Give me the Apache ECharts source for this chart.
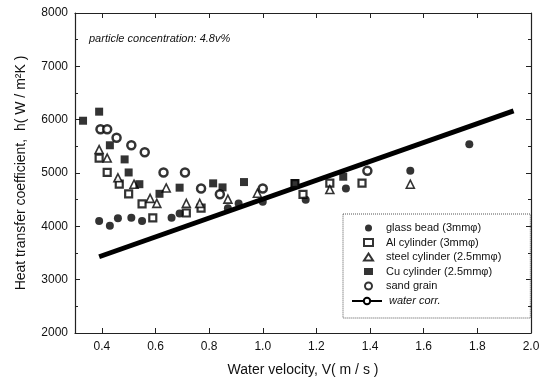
<!DOCTYPE html>
<html>
<head>
<meta charset="utf-8">
<script src="https://cdn.jsdelivr.net/npm/echarts@6/dist/echarts.min.js"></script>
<style>
html, body { margin: 0; padding: 0; background: #fff; }
#chart { width: 546px; height: 383px; }
</style>
</head>
<body>
<div id="chart"></div>
<script>
// tick labels
var xTicks = [0.4, 0.6, 0.8, 1.0, 1.2, 1.4, 1.6, 1.8, 2.0];
var yTicks = [2000, 3000, 4000, 5000, 6000, 7000, 8000];

// measured points [V, h]
var glassBead = [[0.39, 4100], [0.43, 4010], [0.46, 4150], [0.51, 4160], [0.55, 4100], [0.66, 4160],
    [0.69, 4240], [0.87, 4340], [0.91, 4430], [1.0, 4460], [1.16, 4500], [1.31, 4710], [1.55, 5040], [1.77, 5540]];
var alCylinder = [[0.39, 5280], [0.42, 5010], [0.465, 4790], [0.50, 4610], [0.55, 4420], [0.59, 4160],
    [0.715, 4250], [0.77, 4340], [1.12, 4800], [1.15, 4600], [1.25, 4810], [1.37, 4810]];
var steelCylinder = [[0.39, 5440], [0.42, 5280], [0.46, 4910], [0.52, 4790], [0.58, 4525], [0.605, 4430],
    [0.64, 4720], [0.715, 4430], [0.765, 4430], [0.87, 4510], [0.98, 4620], [1.25, 4690], [1.55, 4790]];
var cuCylinder = [[0.33, 5980], [0.39, 6150], [0.43, 5520], [0.485, 5255], [0.50, 5010], [0.54, 4790],
    [0.615, 4610], [0.69, 4725], [0.815, 4806], [0.85, 4730], [0.93, 4830], [1.12, 4810], [1.30, 4930]];
var sandGrain = [[0.395, 5820], [0.42, 5820], [0.455, 5660], [0.51, 5520], [0.56, 5390], [0.63, 5010],
    [0.71, 5010], [0.77, 4710], [0.84, 4600], [1.0, 4710], [1.39, 5040]];
var waterCorr = [[0.39, 3430], [1.935, 6165]];

var txt = '#111';
var font = 'Liberation Sans, Arial, sans-serif';

var myChart = echarts.init(document.getElementById('chart'));

function frameAxis(pos, extra) {
    var a = {
        type: 'value',
        position: pos,
        axisLine: { show: true, lineStyle: { color: '#222', width: 1.2 } },
        axisTick: { show: true, inside: true, length: 5, lineStyle: { color: '#222' } },
        axisLabel: { show: false },
        splitLine: { show: false }
    };
    return Object.assign(a, extra);
}

var option = {
    animation: false,
    backgroundColor: '#fff',
    textStyle: { fontFamily: font },
    title: {
        text: 'particle concentration: 4.8v%',
        left: 84, top: 28,
        textStyle: { fontSize: 11, fontStyle: 'italic', fontWeight: 'normal', color: txt, fontFamily: font }
    },
    grid: { left: 75, right: 15, top: 13, bottom: 50 },
    legend: [
        {
            // markers + dotted box (bottom padding leaves room for the line entry)
            orient: 'vertical',
            left: 343, top: 214,
            itemWidth: 9, itemHeight: 7, itemGap: 2.5,
            padding: [8, 29, 26, 20],
            borderColor: '#555', borderWidth: 1, borderType: 'dotted',
            textStyle: { fontSize: 11, lineHeight: 12, color: txt, fontFamily: font, padding: [0, 0, 0, 8] },
            data: ['glass bead (3mmφ)', 'Al cylinder (3mmφ)', 'steel cylinder (2.5mmφ)', 'Cu cylinder (2.5mmφ)', 'sand grain']
        },
        {
            orient: 'vertical',
            left: 351, top: 295,
            padding: 0,
            itemWidth: 30, itemHeight: 8,
            textStyle: { fontSize: 11, lineHeight: 12, color: txt, fontFamily: font, fontStyle: 'italic', padding: [0, 0, 0, 2] },
            data: ['water corr.']
        }
    ],
    xAxis: [
        frameAxis('bottom', {
            min: 0.3, max: 2.0,
            name: 'Water velocity, V( m / s )',
            nameLocation: 'middle', nameGap: 30,
            nameTextStyle: { fontSize: 14, color: txt, fontFamily: font },
            axisTick: { show: true, inside: true, length: 5, customValues: xTicks, lineStyle: { color: '#222' } },
            axisLabel: {
                show: true, customValues: xTicks, margin: 8,
                fontSize: 12, color: txt, fontFamily: font,
                formatter: function (v) { return v.toFixed(1); }
            }
        }),
        frameAxis('top', {
            min: 0.3, max: 2.0,
            axisTick: { show: true, inside: true, length: 5, customValues: xTicks, lineStyle: { color: '#222' } }
        })
    ],
    yAxis: [
        frameAxis('left', {
            min: 2000, max: 8000, interval: 1000,
            name: 'Heat transfer coefficient,  h( W / m²K )',
            nameLocation: 'middle', nameGap: 47,
            nameTextStyle: { fontSize: 14, color: txt, fontFamily: font },
            minorTick: { show: true, splitNumber: 2, length: 3, lineStyle: { color: '#222' } },
            axisLabel: { show: true, margin: 7, fontSize: 12, color: txt, fontFamily: font,
                formatter: function (v) { return yTicks.indexOf(v) >= 0 ? String(v) : ''; } }
        }),
        frameAxis('right', {
            min: 2000, max: 8000, interval: 1000,
            minorTick: { show: true, splitNumber: 2, length: 3, lineStyle: { color: '#222' } }
        })
    ],
    series: [
        {
            name: 'water corr.', type: 'line', data: waterCorr,
            symbol: 'emptyCircle', symbolSize: 4, showSymbol: false,
            lineStyle: { color: '#000', width: 5 },
            itemStyle: { color: '#000', borderWidth: 1.5 },
            z: 1
        },
        {
            name: 'glass bead (3mmφ)', type: 'scatter', data: glassBead,
            symbol: 'circle', symbolSize: 8,
            itemStyle: { color: '#000' }, z: 3
        },
        {
            name: 'Al cylinder (3mmφ)', type: 'scatter', data: alCylinder,
            symbol: 'rect', symbolSize: 7,
            itemStyle: { color: '#fff', borderColor: '#000', borderWidth: 2.2 }, z: 3
        },
        {
            name: 'steel cylinder (2.5mmφ)', type: 'scatter', data: steelCylinder,
            symbol: 'triangle', symbolSize: 8,
            itemStyle: { color: '#fff', borderColor: '#000', borderWidth: 1.6 }, z: 3
        },
        {
            name: 'Cu cylinder (2.5mmφ)', type: 'scatter', data: cuCylinder,
            symbol: 'rect', symbolSize: 8,
            itemStyle: { color: '#000' }, z: 3
        },
        {
            name: 'sand grain', type: 'scatter', data: sandGrain,
            symbol: 'circle', symbolSize: 8,
            itemStyle: { color: '#fff', borderColor: '#000', borderWidth: 2.5 }, z: 3
        }
    ]
};

myChart.setOption(option);
</script>
</body>
</html>
